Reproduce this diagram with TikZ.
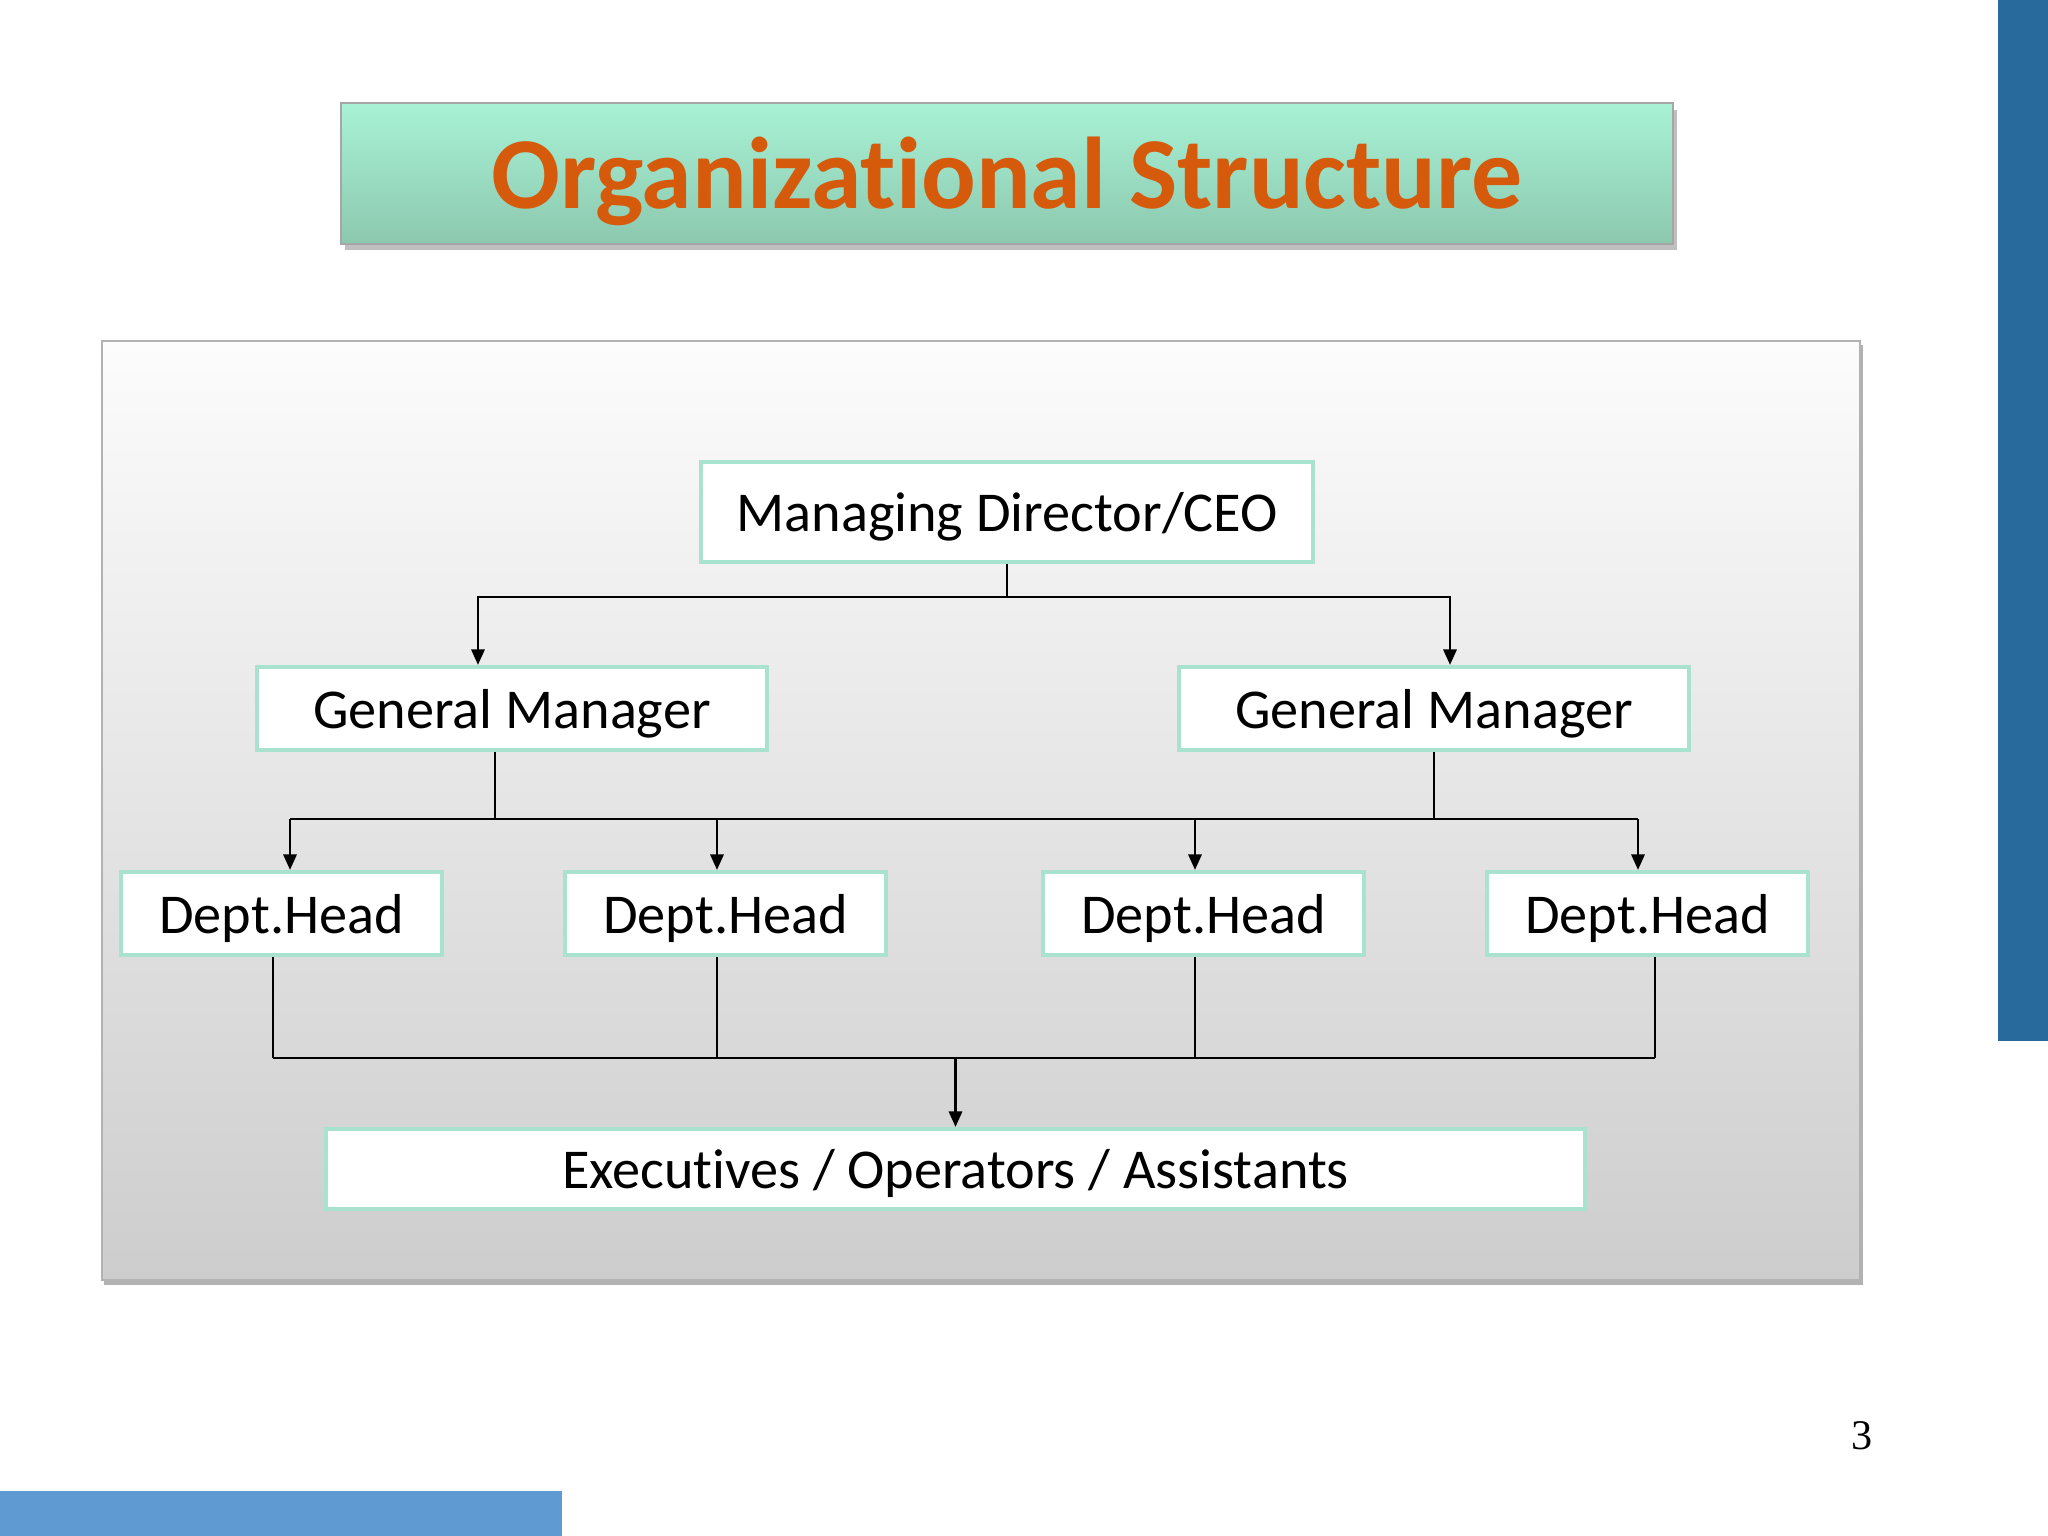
\documentclass[tikz,border=0pt]{standalone}
\usepackage{fontspec}
\setmainfont{Carlito}[Ligatures={NoCommon,NoContextual,NoRare}]
\newfontfamily\serifnum{Liberation Serif}
\usetikzlibrary{arrows.meta,calc}
\definecolor{mint}{HTML}{A9E3D0}
\definecolor{titletop}{HTML}{A8F2D6}
\definecolor{titlebot}{HTML}{8CC8AE}
\definecolor{titleorange}{HTML}{D55A0C}
\definecolor{sidebar}{HTML}{286A9C}
\definecolor{footbar}{HTML}{5F9AD3}
\definecolor{paneltop}{HTML}{FCFCFC}
\definecolor{panelbot}{HTML}{CDCDCD}
\newcommand{\lbl}[1]{\raisebox{-1.4pt}[\height][\depth]{#1}}
\tikzset{
  orgbox/.style={draw=mint, line width=1.2pt, fill=white, inner sep=0pt, font=\fontsize{16}{19}\selectfont, text=black},
  link/.style={draw=black, line width=0.6pt},
  arr/.style={link, -{Triangle[length=4.4pt,width=3.8pt]}}
}
\begin{document}
\begin{tikzpicture}[x=0.01cm,y=-0.01cm]
\useasboundingbox (0,0) rectangle (2048,1536);
\fill[white] (0,0) rectangle (2048,1536);
% side bars
\fill[sidebar] (1998,0) rectangle (2048,1041);
\fill[footbar] (0,1491) rectangle (562,1536);
% title
\fill[black!25] (345,110) rectangle (1677,250);
\shade[top color=titletop, bottom color=titlebot, draw=black!35, line width=0.4pt] (341,103) rectangle (1673,244);
\node[font=\bfseries\fontsize{29}{34}\selectfont, text=titleorange] (title) at (1007,181) {Organizational Structure};
% panel
\fill[black!30] (104,345) rectangle (1863,1285);
\shade[top color=paneltop, bottom color=panelbot, draw=black!30, line width=0.8pt] (102,341) rectangle (1860,1280);
% boxes
\node[orgbox, minimum width=6.12cm, minimum height=1.00cm] (ceo) at (1007,512) {\lbl{Managing Director/CEO}};
\node[orgbox, minimum width=5.10cm, minimum height=0.83cm] (gmL) at (512,708.5) {\lbl{General Manager}};
\node[orgbox, minimum width=5.10cm, minimum height=0.83cm] (gmR) at (1434,708.5) {\lbl{General Manager}};
\node[orgbox, minimum width=3.21cm, minimum height=0.83cm] (dh1) at (281.5,913.5) {\lbl{Dept.Head}};
\node[orgbox, minimum width=3.21cm, minimum height=0.83cm] (dh2) at (725.5,913.5) {\lbl{Dept.Head}};
\node[orgbox, minimum width=3.21cm, minimum height=0.83cm] (dh3) at (1203.5,913.5) {\lbl{Dept.Head}};
\node[orgbox, minimum width=3.21cm, minimum height=0.83cm] (dh4) at (1647.5,913.5) {\lbl{Dept.Head}};
\node[orgbox, minimum width=12.59cm, minimum height=0.80cm] (exec) at (955.5,1169) {\lbl{Executives / Operators / Assistants}};
% bus levels
\coordinate (b1) at (0,597);
\coordinate (b2) at (0,819);
\coordinate (b3) at (0,1058);
% CEO -> GMs
\draw[link] (ceo.south) -- (ceo.south |- b1);
\draw[arr] (ceo.south |- b1) -| ([xshift=-0.34cm]gmL.north);
\draw[arr] (ceo.south |- b1) -| ([xshift=0.16cm]gmR.north);
% GMs -> Dept heads
\draw[link] ([xshift=-0.17cm]gmL.south) -- ([xshift=-0.17cm]gmL.south |- b2);
\draw[link] (gmR.south) -- (gmR.south |- b2);
\draw[link] ([xshift=0.085cm]dh1.north |- b2) -- ([xshift=-0.095cm]dh4.north |- b2);
\draw[arr] ([xshift=0.085cm]dh1.north |- b2) -- ([xshift=0.085cm]dh1.north);
\draw[arr] ([xshift=-0.085cm]dh2.north |- b2) -- ([xshift=-0.085cm]dh2.north);
\draw[arr] ([xshift=-0.085cm]dh3.north |- b2) -- ([xshift=-0.085cm]dh3.north);
\draw[arr] ([xshift=-0.095cm]dh4.north |- b2) -- ([xshift=-0.095cm]dh4.north);
% Dept heads -> Executives
\draw[link] ([xshift=-0.085cm]dh1.south) -- ([xshift=-0.085cm]dh1.south |- b3);
\draw[link] ([xshift=-0.085cm]dh2.south) -- ([xshift=-0.085cm]dh2.south |- b3);
\draw[link] ([xshift=-0.085cm]dh3.south) -- ([xshift=-0.085cm]dh3.south |- b3);
\draw[link] ([xshift=0.075cm]dh4.south) -- ([xshift=0.075cm]dh4.south |- b3);
\draw[link] ([xshift=-0.085cm]dh1.south |- b3) -- ([xshift=0.075cm]dh4.south |- b3);
\draw[arr] (exec.north |- b3) -- (exec.north);
% page number
\node[font=\serifnum\fontsize{12}{14}\selectfont] (pnum) at (1862,1436) {3};
\end{tikzpicture}
\end{document}
